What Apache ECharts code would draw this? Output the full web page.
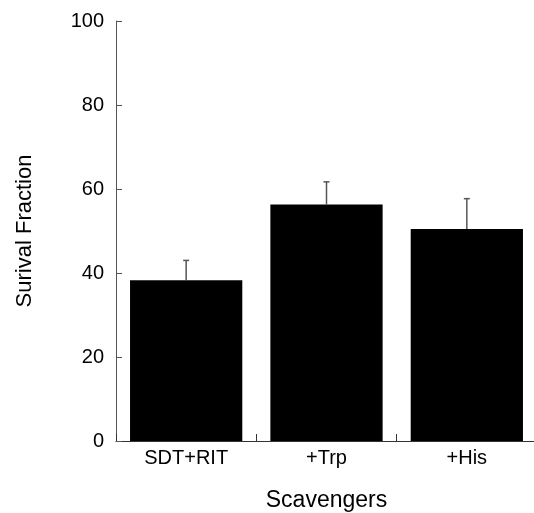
<!DOCTYPE html>
<html lang="en">
<head>
    <meta charset="UTF-8">
    <title>Survival Fraction</title>
    <script src="https://cdn.jsdelivr.net/npm/echarts@6/dist/echarts.min.js"></script>
    <style>
        *{padding:0;margin:0;box-sizing:border-box;}
        body{background:#fff;}
        #main{width:534px;height:513px;}
    </style>
</head>
<body>
    <div id="main"></div>
    <script>
        var categories=["SDT+RIT","+Trp","+His"]
        var survival=[38.3,56.3,50.5]
        var errUp=[4.7,5.4,7.2]
        var yTicks=[0,20,40,60,80,100]

        var font="Liberation Sans, Arial, sans-serif"
        var myChart=echarts.init(document.getElementById("main"))

        var option={
            animation:false,
            grid:{left:116,top:21,width:421,height:420,outerBoundsMode:"none",containLabel:false},
            xAxis:{
                type:"category",
                data:categories,
                name:"Scavengers",
                nameLocation:"middle",
                nameGap:48,
                nameTextStyle:{color:"#000",fontSize:23,fontFamily:font},
                axisLine:{lineStyle:{color:"#333",width:1}},
                axisTick:{show:true,inside:true,alignWithLabel:false,length:7,lineStyle:{color:"#333"}},
                axisLabel:{color:"#000",fontSize:20,fontFamily:font,margin:7},
            },
            yAxis:{
                type:"value",
                min:yTicks[0],
                max:yTicks[yTicks.length-1],
                interval:20,
                name:"Surival Fraction",
                nameLocation:"middle",
                nameGap:80,
                nameTextStyle:{color:"#000",fontSize:22,fontFamily:font},
                splitLine:{show:false},
                axisLine:{show:true,lineStyle:{color:"#555",width:1}},
                axisTick:{show:true,inside:true,length:6,lineStyle:{color:"#555"}},
                axisLabel:{color:"#000",fontSize:20,fontFamily:font,margin:12},
            },
            series:[
                {
                    type:"bar",
                    data:survival,
                    barCategoryGap:"20%",
                    itemStyle:{color:"#000"},
                },
                {
                    type:"custom",
                    data:survival.map(function(v,i){return [i,v,v+errUp[i]]}),
                    z:3,
                    renderItem:function(params,api){
                        var lo=api.coord([api.value(0),api.value(1)])
                        var hi=api.coord([api.value(0),api.value(2)])
                        var half=3
                        return {
                            type:"group",
                            children:[
                                {type:"line",shape:{x1:lo[0],y1:lo[1],x2:hi[0],y2:hi[1]},style:{stroke:"#555",lineWidth:1.5}},
                                {type:"line",shape:{x1:hi[0]-half,y1:hi[1],x2:hi[0]+half,y2:hi[1]},style:{stroke:"#555",lineWidth:1.5}}
                            ]
                        }
                    }
                }
            ]
        }

        myChart.setOption(option)
        window.onresize=myChart.resize
    </script>
</body>
</html>
